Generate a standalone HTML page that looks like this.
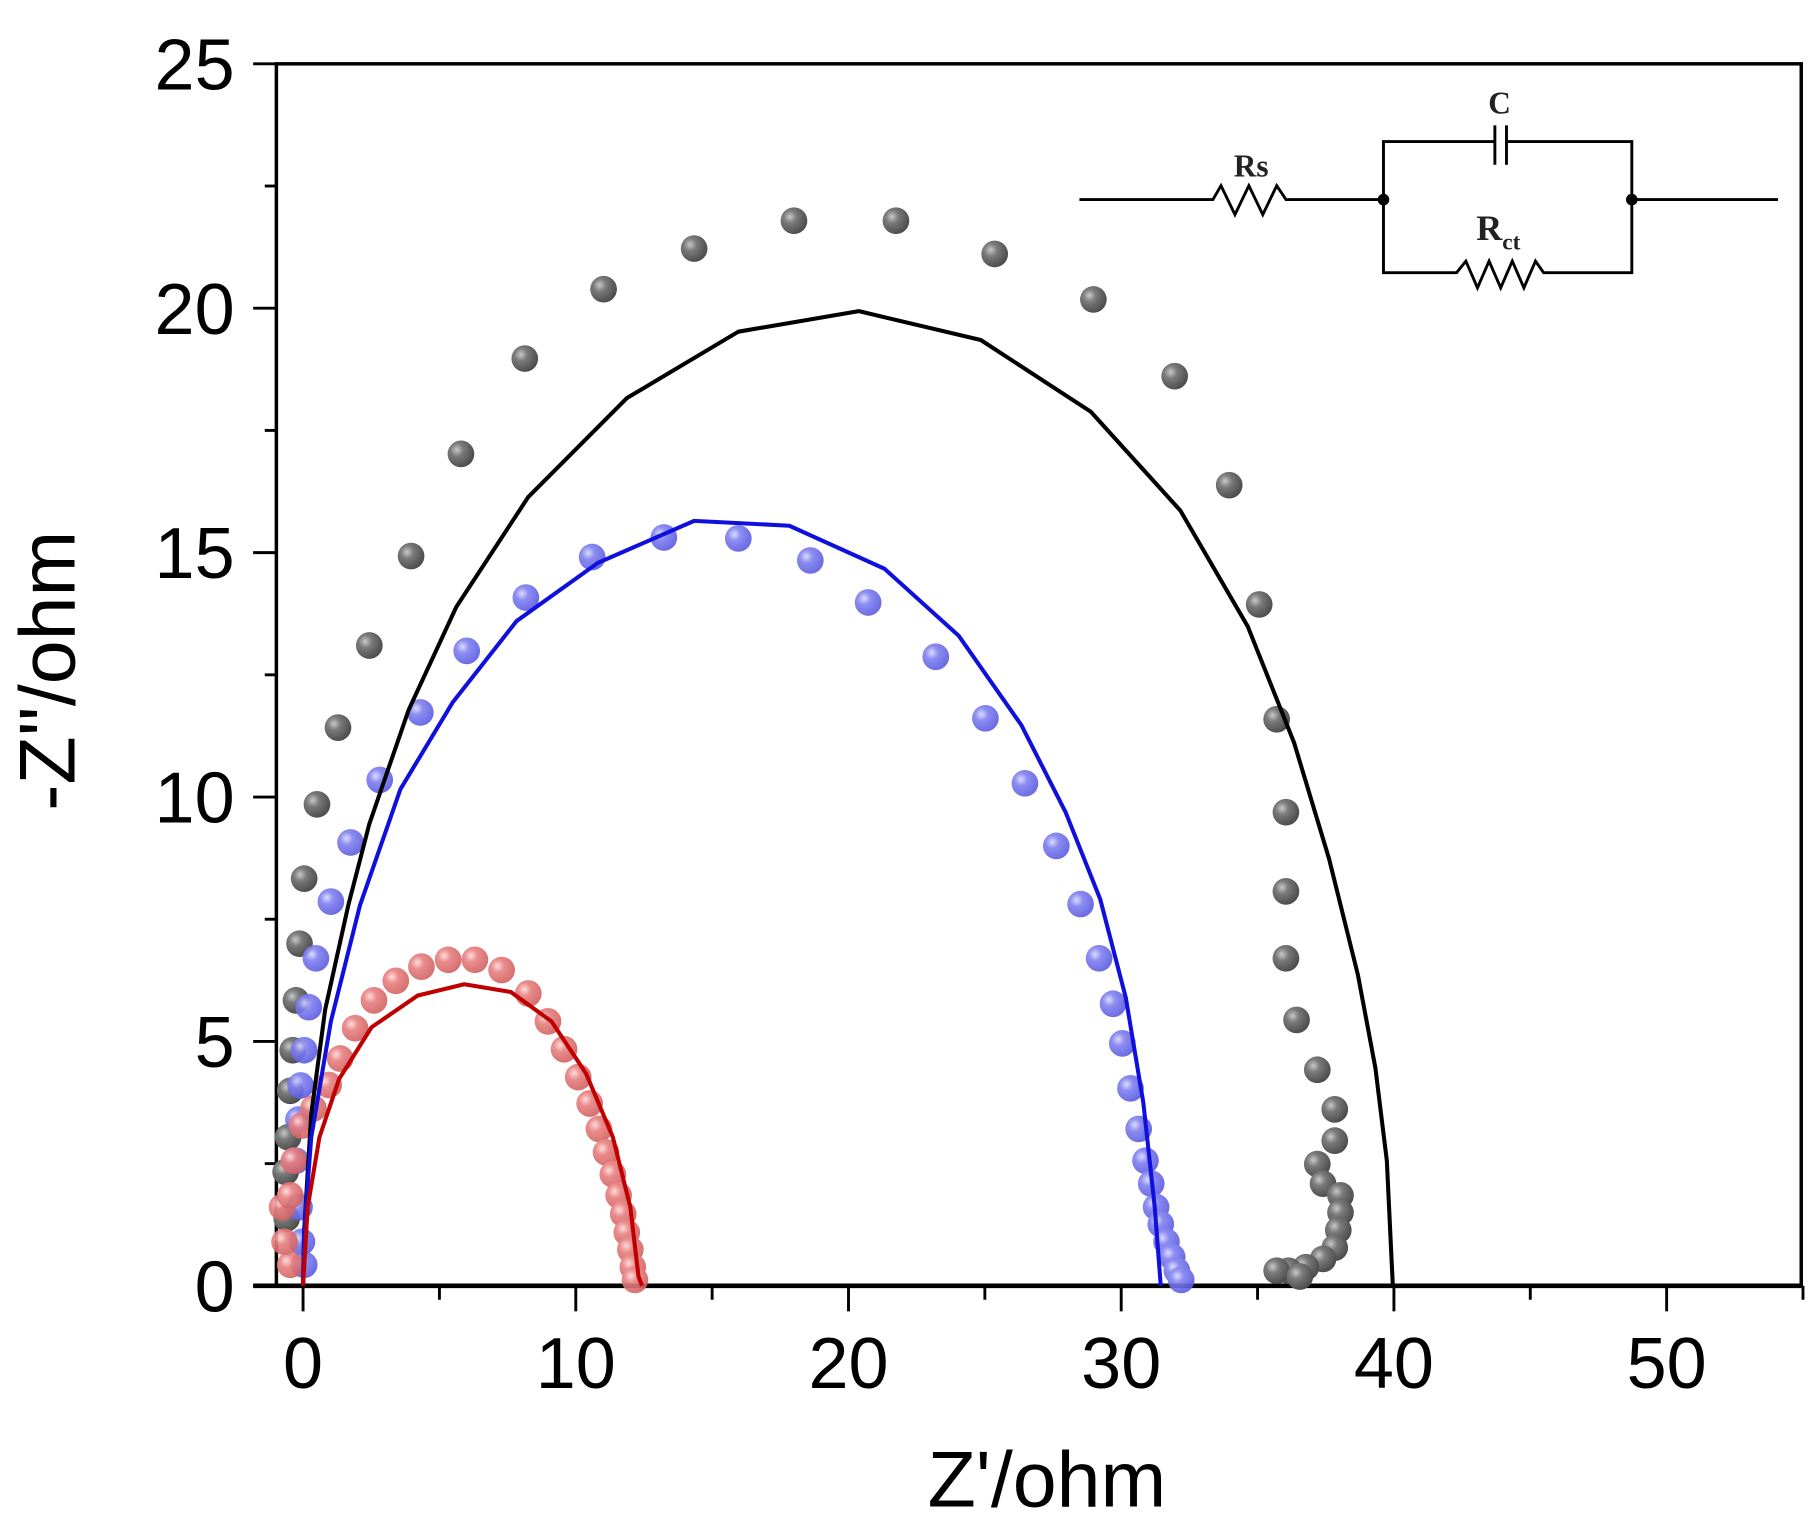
<!DOCTYPE html>
<html>
<head>
<meta charset="utf-8">
<style>
html,body{margin:0;padding:0;background:#fff;}
svg{display:block;}
text{font-family:"Liberation Sans",Arial,sans-serif;}
.serif text, .serif{font-family:"Liberation Serif",serif;}
</style>
</head>
<body>
<svg id="chart" width="1820" height="1533" viewBox="0 0 1568 1321" xmlns="http://www.w3.org/2000/svg">
<defs>
<radialGradient id="gGrey" cx="0.35" cy="0.35" r="0.7">
<stop offset="0" stop-color="#c8c8c8"/><stop offset="0.35" stop-color="#7a7a7a"/><stop offset="1" stop-color="#4a4a4a"/>
</radialGradient>
<radialGradient id="gBlue" cx="0.35" cy="0.35" r="0.7">
<stop offset="0" stop-color="#d8d8ff"/><stop offset="0.35" stop-color="#8080f0"/><stop offset="1" stop-color="#5a5ae0"/>
</radialGradient>
<radialGradient id="gRed" cx="0.35" cy="0.35" r="0.7">
<stop offset="0" stop-color="#ffd8d8"/><stop offset="0.35" stop-color="#e88080"/><stop offset="1" stop-color="#d06060"/>
</radialGradient>
</defs>
<g id="plot"></g>
<g id="circuit" stroke="#000" stroke-width="2.5" fill="none">
<polyline points="930,172 1045,172 1052,160 1064,185 1076,160 1088,185 1100,160 1108,172 1192,172"/>
<polyline points="1192,172 1192,122 1288,122"/>
<polyline points="1298,122 1406,122 1406,172"/>
<line x1="1288" y1="108" x2="1288" y2="142"/>
<line x1="1298" y1="108" x2="1298" y2="142"/>
<polyline points="1192,172 1192,235 1255,235 1263,225 1273,248 1283,225 1293,248 1303,225 1313,248 1323,225 1330,235 1406,235 1406,172"/>
<line x1="1406" y1="172" x2="1532" y2="172"/>
<circle cx="1192" cy="172" r="5" fill="#000" stroke="none"/>
<circle cx="1406" cy="172" r="5" fill="#000" stroke="none"/>
</g>
<g class="serif" font-weight="bold" fill="#222">
<text x="1078" y="152" font-size="27" text-anchor="middle" style="font-family:'Liberation Serif',serif">Rs</text>
<text x="1292" y="98" font-size="27" text-anchor="middle" style="font-family:'Liberation Serif',serif">C</text>
<text x="1272" y="207" font-size="31" style="font-family:'Liberation Serif',serif">R<tspan font-size="20" dy="8">ct</tspan></text>
</g>
</svg>
<script>
const xTicks=[0,10,20,30,40,50];
const yTicks=[0,5,10,15,20,25];
const greyX=[-0.64,-0.6,-0.55,-0.47,-0.38,-0.26,-0.13,0.04,0.51,1.28,2.43,3.96,5.79,8.13,11.02,14.34,18.0,21.74,25.36,28.98,31.96,33.96,35.06,35.7,36.04,36.04,36.04,36.43,37.19,37.83,37.83,37.19,37.4,38.04,38.04,37.96,37.83,37.4,36.77,36.13,35.7,36.55];
const greyY=[2.33,1.38,3.04,3.99,4.82,5.84,7.0,8.33,9.85,11.42,13.1,14.93,17.02,18.97,20.39,21.22,21.79,21.79,21.11,20.18,18.61,16.38,13.94,11.59,9.69,8.07,6.7,5.44,4.42,3.61,2.97,2.49,2.09,1.85,1.5,1.14,0.78,0.55,0.38,0.31,0.31,0.19];
const blackFitX=[0,0.04,0.3,0.81,1.66,2.43,3.87,5.62,8.26,11.87,15.96,20.38,24.85,28.89,32.17,34.64,36.34,37.62,38.68,39.32,39.74,39.96];
const blackFitY=[0,1.14,3.51,5.65,7.79,9.45,11.78,13.89,16.14,18.16,19.52,19.94,19.35,17.88,15.86,13.49,11.11,8.74,6.36,4.46,2.56,0];
const blueX=[0.04,-0.04,-0.13,-0.26,-0.17,-0.09,0.04,0.21,0.47,1.02,1.74,2.81,4.3,6.0,8.17,10.6,13.23,15.96,18.6,20.72,23.2,25.02,26.47,27.62,28.51,29.19,29.7,30.04,30.34,30.64,30.89,31.1,31.28,31.45,31.66,31.87,32.04,32.2];
const blueY=[0.43,0.9,1.61,2.56,3.4,4.1,4.82,5.7,6.7,7.86,9.07,10.35,11.73,12.99,14.08,14.91,15.31,15.29,14.84,13.98,12.87,11.61,10.28,9.0,7.81,6.7,5.77,4.96,4.04,3.21,2.56,2.09,1.61,1.26,0.9,0.59,0.31,0.12];
const blueFitX=[0,0.04,0.3,1.02,2.09,3.57,5.49,7.83,10.81,14.34,17.83,21.32,24.04,26.34,27.96,29.23,30.17,30.81,31.23,31.45];
const blueFitY=[0,1.14,3.04,5.41,7.79,10.16,11.94,13.6,14.79,15.65,15.55,14.67,13.3,11.47,9.69,7.91,5.89,3.75,1.61,0];
const redX=[-0.47,-0.68,-0.77,-0.47,-0.34,-0.04,0.38,0.94,1.36,1.91,2.6,3.4,4.34,5.32,6.3,7.28,8.26,8.98,9.57,10.09,10.51,10.85,11.11,11.36,11.57,11.74,11.87,12.0,12.09,12.17];
const redY=[0.43,0.9,1.61,1.85,2.56,3.28,3.63,4.11,4.65,5.27,5.84,6.24,6.53,6.67,6.67,6.46,5.98,5.41,4.84,4.27,3.73,3.21,2.73,2.28,1.85,1.47,1.09,0.74,0.38,0.12];
const redFitX=[0,0.17,0.6,1.32,2.51,4.21,5.91,7.62,9.11,10.38,11.36,12.0,12.3,12.43];
const redFitY=[0,1.61,3.04,4.23,5.29,5.94,6.17,6.01,5.41,4.34,3.04,1.61,0.19,0];

const X0=261,XS=23.5,Y0=1108,YS=42.12;
function sx(v){return X0+v*XS;}
function sy(v){return Y0-v*YS;}
const NS="http://www.w3.org/2000/svg";
const plot=document.getElementById('plot');
function mk(tag,attrs,parent){const e=document.createElementNS(NS,tag);for(const k in attrs)e.setAttribute(k,attrs[k]);(parent||plot).appendChild(e);return e;}

const frame=mk('rect',{x:238,y:55,width:1314,height:1053,fill:'none',stroke:'#000','stroke-width':3});


const xAxisLine=mk('line',{x1:218,y1:1108,x2:1552,y2:1108,stroke:'#000','stroke-width':4});



xTicks.forEach(t=>{
  const l=mk('line',{x1:sx(t),y1:1108,x2:sx(t),y2:1130,stroke:'#000','stroke-width':2.5});
  
  
  const m=mk('line',{x1:sx(t+5),y1:1108,x2:sx(t+5),y2:1120,stroke:'#000','stroke-width':2.5});
  
  
  const tx=mk('text',{x:sx(t),y:1196,'font-size':62,'text-anchor':'middle',fill:'#000'});
  tx.textContent=t;
  
  
});
yTicks.forEach(t=>{
  const l=mk('line',{x1:218,y1:sy(t),x2:238,y2:sy(t),stroke:'#000','stroke-width':2.5});
  
  
  if(t<25){const m=mk('line',{x1:228,y1:sy(t+2.5),x2:238,y2:sy(t+2.5),stroke:'#000','stroke-width':2.5});
  
  }
  const tx=mk('text',{x:202,y:sy(t)+22,'font-size':62,'text-anchor':'end',fill:'#000'});
  tx.textContent=t;
  
  
});
const xt=mk('text',{x:902,y:1298,'font-size':68,'text-anchor':'middle',fill:'#000'});
xt.textContent="Z'/ohm";


const yt=mk('text',{x:0,y:0,'font-size':68,'text-anchor':'middle',fill:'#000',transform:'translate(64,578) rotate(-90)'});
yt.textContent="-Z''/ohm";



function pts(name,xs,ys,fill,op){
  const g=mk('g',{opacity:op});
  
  
  xs.forEach((x,i)=>{
    const c=mk('circle',{cx:sx(x),cy:sy(ys[i]),r:11.5,fill:fill},g);
    
    
  });
}
function line(name,xs,ys,col){
  const p=mk('polyline',{points:xs.map((x,i)=>sx(x)+','+sy(ys[i])).join(' '),fill:'none',stroke:col,'stroke-width':3.5,'stroke-linejoin':'round'});
  
  
}
pts('grey-series',greyX,greyY,'url(#gGrey)',1);
pts('blue-series',blueX,blueY,'url(#gBlue)',0.9);
pts('red-series',redX,redY,'url(#gRed)',0.9);
line('black-fit-line',blackFitX,blackFitY,'#000');
line('blue-fit-line',blueFitX,blueFitY,'#1010dd');
line('red-fit-line',redFitX,redFitY,'#c00000');
</script>
</body>
</html>
